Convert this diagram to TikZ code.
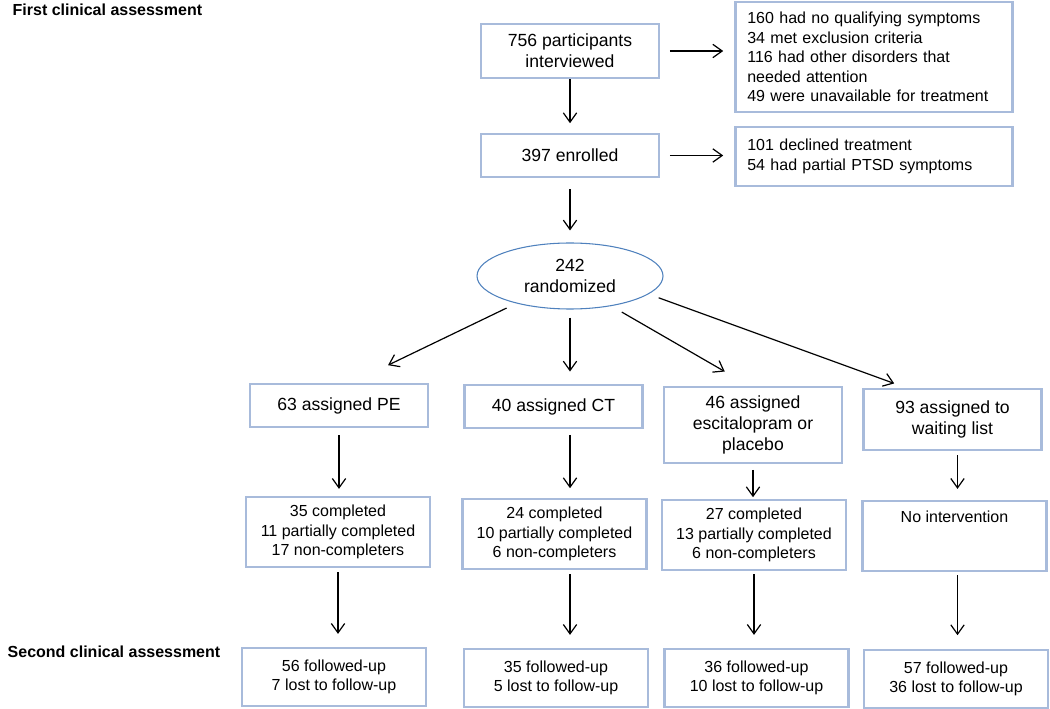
\documentclass[tikz,border=0pt]{standalone}
\usepackage{fontspec}
\setmainfont{Liberation Sans}
\usetikzlibrary{arrows.meta,positioning,calc,shapes.geometric}
\definecolor{boxline}{RGB}{168,187,219}
\definecolor{ovalline}{RGB}{79,129,189}

\tikzset{
  box/.style={draw=boxline, line width=2.2pt, align=center, inner sep=2pt,
    font=\fontsize{12}{14.6}\selectfont},
  bigbox/.style={box, font=\fontsize{13.2}{16}\selectfont},
  listbox/.style={box, align=left, text width=190pt, inner xsep=9pt},
  oval/.style={ellipse, draw=ovalline, line width=0.8pt, align=center, inner sep=0pt,
    minimum width=139.5pt, minimum height=49.5pt, font=\fontsize{13.2}{16}\selectfont},
  arr/.style={-{Straight Barb[length=7pt,width=10pt]}, line width=0.9pt},
  head/.style={anchor=west, font=\bfseries\fontsize{12}{14.6}\selectfont}
}

\begin{document}
\begin{tikzpicture}[x=0.75pt,y=-0.75pt]
\useasboundingbox (0,0) rectangle (1050,709);

\node[head] (first) at (8,10) {First clinical assessment};
\node[head] (second) at (3,652) {Second clinical assessment};

% screening
\node[bigbox, minimum width=133.5pt, minimum height=40.5pt] (interviewed) at (570,51) {756 participants\\interviewed};
\node[listbox, minimum height=82.5pt] (excluded) at (874,57) {160 had no qualifying symptoms\\34 met exclusion criteria\\116 had other disorders that\\needed attention\\49 were unavailable for treatment};
\node[bigbox, minimum width=133.5pt, minimum height=32.25pt] (enrolled) at (570,155.5) {397 enrolled};
\node[listbox, minimum height=44.25pt] (declined) at (874,156.5) {101 declined treatment\\54 had partial PTSD symptoms};
\node[oval] (rand) at (570,276) {242\\randomized};

% assigned arms
\node[bigbox, minimum width=133.5pt, minimum height=32.25pt] (pe) at (339,405.5) {63 assigned PE};
\node[bigbox, minimum width=133.5pt, minimum height=32.25pt] (ct) at (553.5,406.5) {40 assigned CT};
\node[bigbox, minimum width=133.5pt, minimum height=57pt] (esc) at (753,425) {46 assigned\\escitalopram or\\placebo};
\node[bigbox, minimum width=134pt, minimum height=45.75pt] (wait) at (952.5,419.5) {93 assigned to\\waiting list};

% treatment
\node[box, minimum width=138pt, minimum height=52.5pt] (pedone) at (338,532) {35 completed\\11 partially completed\\17 non-completers};
\node[box, minimum width=138pt, minimum height=52.5pt] (ctdone) at (554.5,534) {24 completed\\10 partially completed\\6 non-completers};
\node[box, minimum width=138pt, minimum height=52.5pt] (escdone) at (754,535) {27 completed\\13 partially completed\\6 non-completers};
\node[box, minimum width=138pt, minimum height=52.5pt] (waitdone) at (954.5,536) {No intervention\\\mbox{}\\\mbox{}};

% follow-up
\node[box, minimum width=138pt, minimum height=43.5pt] (pefu) at (334,677) {56 followed-up\\7 lost to follow-up};
\node[box, minimum width=138pt, minimum height=43.5pt] (ctfu) at (556,678) {35 followed-up\\5 lost to follow-up};
\node[box, minimum width=138pt, minimum height=43.5pt] (escfu) at (756.5,678) {36 followed-up\\10 lost to follow-up};
\node[box, minimum width=138pt, minimum height=43.5pt] (waitfu) at (956,679) {57 followed-up\\36 lost to follow-up};

\draw[arr, shorten >=7pt] (interviewed) -- (enrolled);
\draw[arr, shorten <=7pt, shorten >=8pt] (interviewed.east) -- (interviewed.east -| excluded.west);
\draw[arr, shorten <=7pt, shorten >=8pt] (enrolled.east) -- (enrolled.east -| declined.west);
\draw[arr, shorten <=8pt, shorten >=9pt] (enrolled) -- (rand);

\draw[arr, shorten <=8pt, shorten >=30pt] (rand.207) -- ($(pe.north)+(13,0)$);
\draw[arr, shorten <=6pt, shorten >=9pt] (rand.south) -- (rand.south |- ct.north);
\draw[arr, shorten <=9pt, shorten >=21pt] (rand.-36) -- ($(esc.north)+(-4,0)$);
\draw[arr, shorten <=8pt, shorten >=9pt] (rand.-13) -- ($(wait.north)+(-47,0)$);

\draw[arr, shorten <=5pt, shorten >=5pt] (pe.south) -- (pe.south |- pedone.north);
\draw[arr, shorten <=4pt, shorten >=7pt] (ct.south -| rand.south) -- (ctdone.north -| rand.south);
\draw[arr, shorten <=4pt, shorten >=1pt] (esc.south) -- (esc.south |- escdone.north);
\draw[arr, shorten <=3pt, shorten >=8pt] ($(wait.south)+(5,0)$) -- ($(waitdone.north)+(3,0)$);

\draw[arr, shorten <=3pt, shorten >=9.5pt] (pedone.south) -- (pedone.south |- pefu.north);
\draw[arr, shorten <=3pt, shorten >=9.5pt] (ctdone.south -| rand.south) -- (ctfu.north -| rand.south);
\draw[arr, shorten <=2pt, shorten >=9.5pt] (escdone.south) -- (escdone.south |- escfu.north);
\draw[arr, shorten <=2pt, shorten >=10pt] ($(waitdone.south)+(3,0)$) -- ($(waitfu.north)+(1.5,0)$);
\end{tikzpicture}
\end{document}
